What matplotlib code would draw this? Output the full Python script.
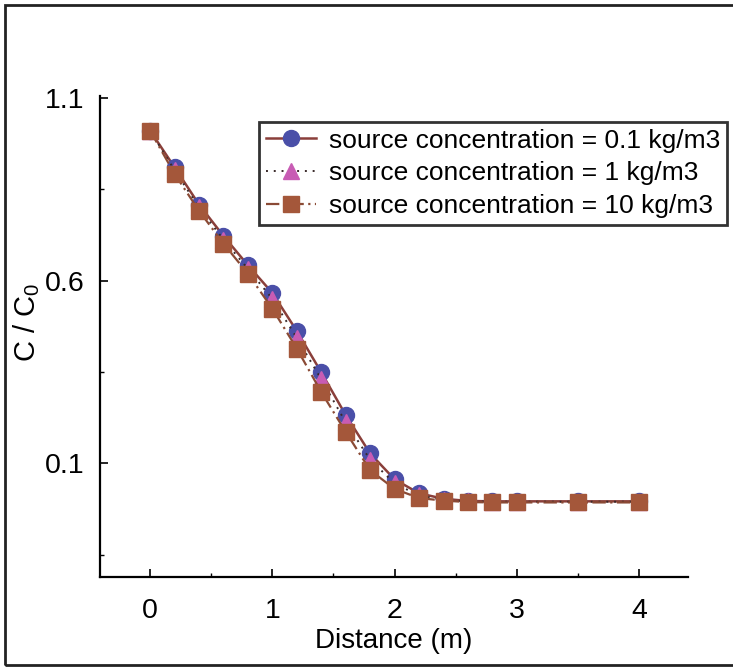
import matplotlib
matplotlib.use("Agg")
import matplotlib.pyplot as plt
from matplotlib.patches import Rectangle

plt.rcParams['font.family'] = ['Liberation Sans', 'DejaVu Sans']
plt.rcParams['mathtext.fontset'] = 'custom'
plt.rcParams['mathtext.rm'] = 'Liberation Sans'
plt.rcParams['mathtext.it'] = 'Liberation Sans'

# distance along the column (m)
distance = [0, 0.2, 0.4, 0.6, 0.8, 1.0, 1.2, 1.4, 1.6, 1.8, 2.0,
            2.2, 2.4, 2.6, 2.8, 3.0, 3.5, 4.0]

# relative concentration C/C0 for each source concentration
conc_01 = [1.01, 0.91, 0.808, 0.722, 0.642, 0.566, 0.462, 0.349, 0.232, 0.127,
           0.056, 0.018, 0.003, -0.003, -0.004, -0.004, -0.004, -0.004]
conc_1 = [1.01, 0.902, 0.8, 0.712, 0.632, 0.55, 0.443, 0.33, 0.212, 0.11,
          0.045, 0.012, 0.0, -0.004, -0.005, -0.005, -0.005, -0.005]
conc_10 = [1.01, 0.892, 0.791, 0.701, 0.619, 0.523, 0.414, 0.295, 0.186, 0.081,
           0.03, 0.005, -0.002, -0.006, -0.007, -0.007, -0.007, -0.007]

labels = ['source concentration = 0.1 kg/m3',
          'source concentration = 1 kg/m3',
          'source concentration = 10 kg/m3']

x_ticks = [0, 1, 2, 3, 4]
y_ticks = [0.1, 0.6, 1.1]

W, H = 733, 667
fig = plt.figure(figsize=(W / 100, H / 100), dpi=100)
ax = fig.add_axes([100 / W, 1 - 577 / H, 588 / W, 481 / H])

ax.plot(distance, conc_01, '-', color='#8a3f3a', lw=1.8,
        marker='o', ms=11.5, mfc='#4a4fa8', mec='#4a4fa8', label=labels[0])
ax.plot(distance, conc_1, linestyle=(0, (1, 3)), color='#3a2a2a', lw=1.4,
        marker='^', ms=11.5, mfc='#c85cb4', mec='#c85cb4', label=labels[1])
ax.plot(distance, conc_10, linestyle=(0, (6, 2, 1, 2)), color='#8a4a35', lw=1.6,
        marker='s', ms=11.5, mfc='#a4573a', mec='#a4573a', label=labels[2])

ax.set_xlim(-0.41, 4.4)
ax.set_ylim(-0.211, 1.105)
ax.set_xticks(x_ticks)
ax.set_xticks([0.5, 1.5, 2.5, 3.5], minor=True)
ax.set_yticks(y_ticks)
ax.set_yticks([-0.15, 0.35, 0.85], minor=True)
ax.set_yticklabels(['0.1', '0.6', '1.1'])

for side in ['top', 'right']:
    ax.spines[side].set_visible(False)
for side in ['left', 'bottom']:
    ax.spines[side].set_linewidth(1.6)

ax.tick_params(which='major', direction='in', length=6, width=1.2, labelsize=20.5)
ax.tick_params(which='minor', direction='in', length=3, width=1.0)
ax.tick_params(axis='x', which='major', pad=15)
ax.tick_params(axis='y', which='major', pad=11)

ax.set_xlabel('Distance (m)', fontsize=20)
ax.xaxis.set_label_coords(0.5, -0.133)
ax.xaxis.label.set_va('center')
ax.set_ylabel(r'$\mathregular{C\ /\ C_0}$', fontsize=21)
ax.yaxis.set_label_coords(-0.125, 0.53)
ax.yaxis.label.set_va('center')

leg = ax.legend(loc='upper right', bbox_to_anchor=(727 / W, 1 - 122 / H),
                bbox_transform=fig.transFigure, fontsize=19, frameon=True,
                fancybox=False, handlelength=1.9, handletextpad=0.5,
                labelspacing=0.33, borderpad=0.25, borderaxespad=0)
leg.get_frame().set_edgecolor('black')
leg.get_frame().set_linewidth(2)

# outer frame around the figure, open on the right edge
fig.patches.append(Rectangle((5 / W, 2 / H), 1.05, 1 - 7 / H, transform=fig.transFigure,
                             fill=False, edgecolor='#222222', lw=2, clip_on=False))

fig.savefig('out.png', dpi=100)
